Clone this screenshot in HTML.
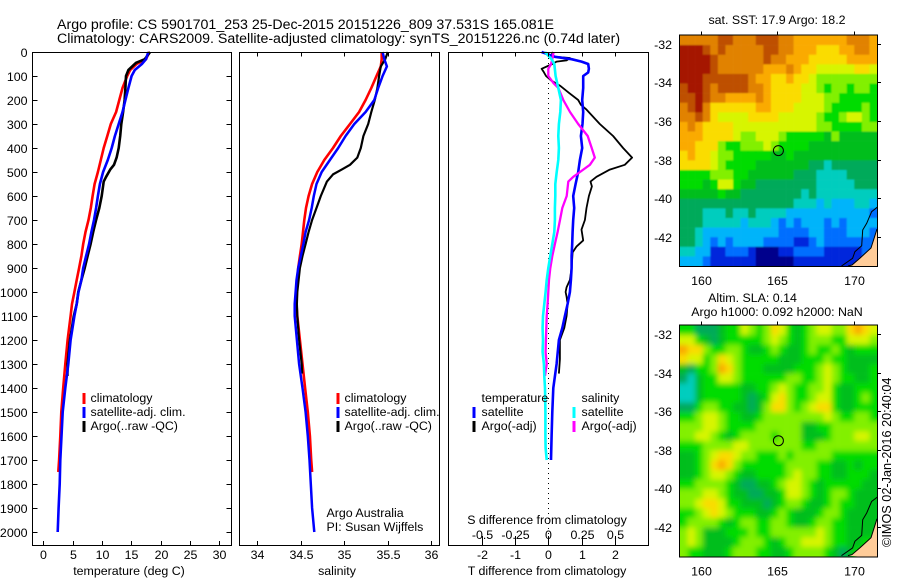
<!DOCTYPE html>
<html lang="en">
<head>
<meta charset="utf-8">
<title>Argo profile chart</title>
<style>
html,body{margin:0;padding:0;background:#fff;width:900px;height:580px;overflow:hidden}
svg{display:block}
text{font-family:"Liberation Sans",sans-serif;font-size:12.4px;fill:#000}
.title{font-size:14.2px}
.stamp{font-size:12.7px}
</style>
</head>
<body>
<svg id="chart" xmlns="http://www.w3.org/2000/svg" width="900" height="580" viewBox="0 0 900 580">
<defs>
<clipPath id="clip-sst"><rect x="680" y="35.5" width="197" height="230.5"/></clipPath>
<clipPath id="clip-sla"><rect x="680" y="325.5" width="197" height="231"/></clipPath>
<filter id="soften" x="-5%" y="-5%" width="110%" height="110%"><feGaussianBlur stdDeviation="2.6"/></filter>
<filter id="soften-light" x="-5%" y="-5%" width="110%" height="110%"><feGaussianBlur stdDeviation="0.9"/></filter>
</defs>
<text class="title" x="57" y="29">Argo profile: CS 5901701_253 25-Dec-2015 20151226_809 37.531S 165.081E</text>
<text class="title" x="57" y="43">Climatology: CARS2009. Satellite-adjusted climatology: synTS_20151226.nc (0.74d later)</text>
<g id="layer-temp"></g>
<g id="layer-sal"></g>
<g id="layer-diff"></g>
<g id="layer-sst"></g>
<g id="layer-sla"></g>

<text x="129" y="575" text-anchor="middle">temperature (deg C)</text>
<text x="337" y="575" text-anchor="middle">salinity</text>
<text x="547" y="575" text-anchor="middle">T difference from climatology</text>
<text x="547" y="524" text-anchor="middle">S difference from climatology</text>

<g>
<text x="90.5" y="402">climatology</text>
<text x="90.5" y="416">satellite-adj. clim.</text>
<text x="90.5" y="430">Argo(..raw -QC)</text>
</g>
<g>
<text x="344.5" y="402">climatology</text>
<text x="344.5" y="416">satellite-adj. clim.</text>
<text x="344.5" y="430">Argo(..raw -QC)</text>
<text x="326.5" y="517">Argo Australia</text>
<text x="326.5" y="531">PI: Susan Wijffels</text>
</g>
<g>
<text x="481.5" y="402">temperature</text>
<text x="481.5" y="416">satellite</text>
<text x="481.5" y="430">Argo(-adj)</text>
<text x="581.5" y="402">salinity</text>
<text x="581.5" y="416">satellite</text>
<text x="581.5" y="430">Argo(-adj)</text>
</g>

<text x="777" y="24" text-anchor="middle">sat. SST: 17.9 Argo: 18.2</text>
<text x="752.5" y="302" text-anchor="middle">Altim. SLA: 0.14</text>
<text x="777" y="316" text-anchor="middle">Argo h1000: 0.092 h2000: NaN</text>
<text class="stamp" transform="translate(891,547) rotate(-90)">©IMOS 02-Jan-2016 20:40:04</text>
</svg>

<script>
// ---- temperature panel data ----
const tempClimDepth = [0,30,50,75,100,150,200,250,300,350,400,450,500,550,600,650,700,750,800,850,900,950,1000,1050,1100,1200,1300,1400,1500,1600,1700,1750];
const tempClimValue = [18.07,17.5,15.9,14.8,14.3,13.5,12.95,12.4,11.5,10.9,10.3,9.8,9.3,8.75,8.4,8.1,7.7,7.2,6.8,6.5,6.1,5.7,5.3,4.9,4.66,4.15,3.75,3.4,3.07,2.9,2.7,2.55];
const tempSatDepth = [0,30,50,75,100,150,200,250,300,350,400,450,500,550,600,650,700,750,800,850,900,950,1000,1050,1100,1200,1300,1400,1500,1600,1700,1800,1900,2000];
const tempSatValue = [17.9,17.5,16.8,15.6,15.05,14.5,14,13.5,12.85,12.2,11.65,11,10.2,9.65,9.3,9,8.65,8.2,7.8,7.3,6.8,6.5,6,5.7,5.3,4.66,4.26,3.75,3.3,3.1,2.9,2.8,2.6,2.45];
const tempArgoDepth = [0,30,45,75,100,150,200,250,300,350,400,440,470,490,520,540,600,650,700,750,800,850,900,950,1000,1050,1100,1200,1300,1350];
const tempArgoValue = [18.2,17.3,15.8,14.5,14.1,14,13.85,13.6,13.3,13.1,12.85,12.5,12.05,11.4,10.7,10.3,9.95,9.55,9,8.5,8.07,7.55,7.05,6.5,5.97,5.7,5.2,4.55,4.15,4.1];

// ---- salinity panel data ----
const salClimDepth = [0,30,60,100,150,200,250,300,350,400,450,500,550,600,650,700,750,800,850,900,1000,1050,1100,1200,1300,1400,1500,1600,1700,1750];
const salClimValue = [35.43,35.43,35.42,35.37,35.31,35.245,35.17,35.065,34.96,34.87,34.77,34.69,34.63,34.59,34.56,34.54,34.525,34.51,34.49,34.47,34.455,34.45,34.46,34.49,34.52,34.55,34.58,34.605,34.62,34.63];
const salSatDepth = [0,30,60,100,150,200,250,300,350,400,450,500,550,600,650,700,750,800,850,900,950,1000,1050,1100,1200,1300,1400,1500,1600,1700,1800,1900,2000];
const salSatValue = [35.44,35.46,35.49,35.44,35.39,35.345,35.245,35.115,35.015,34.93,34.835,34.74,34.68,34.65,34.625,34.595,34.555,34.53,34.5,34.47,34.45,34.44,34.43,34.43,34.455,34.48,34.52,34.555,34.58,34.6,34.615,34.63,34.655];
const salArgoDepth = [0,30,60,100,150,200,250,300,350,400,440,470,490,510,540,600,630,700,750,800,850,900,1000,1050,1100,1200,1300,1340];
const salArgoValue = [35.5,35.47,35.42,35.4,35.38,35.35,35.31,35.275,35.22,35.19,35.15,35.065,34.97,34.87,34.8,34.73,34.7,34.63,34.59,34.555,34.52,34.49,34.46,34.455,34.46,34.48,34.51,34.515];

// ---- difference panel data ----
const diffTSatDepth = [0,20,30,40,50,70,85,100,150,200,250,300,350,400,450,500,550,600,650,700,750,800,850,900,950,1000,1050,1100,1150,1200,1300,1400,1500,1600,1700];
const diffTSatValue = [-0.2,0.2,0.7,1.0,1.2,1.22,1.2,1.05,1.05,1.02,1.05,1.03,0.98,1.02,0.95,0.9,0.82,0.75,0.78,0.75,0.73,0.72,0.7,0.7,0.68,0.65,0.58,0.5,0.42,0.32,0.25,0.15,0.12,0.1,0.08];
const diffTArgoDepth = [0,15,20,25,35,40,50,70,85,100,120,140,170,200,220,240,300,350,400,440,470,490,520,540,560,600,650,700,740,785,810,835,900,950,980,1000,1020,1050,1100,1150,1200,1280,1340];
const diffTArgoValue = [0.1,0.15,0.2,0.65,0.55,0.25,0.12,-0.2,-0.13,-0.07,0.1,0.35,0.62,0.9,0.98,1.15,1.55,1.95,2.25,2.52,2.3,1.85,1.45,1.27,1.31,1.22,1.15,1.1,1.0,1.05,0.85,0.73,0.7,0.65,0.55,0.52,0.55,0.58,0.55,0.48,0.35,0.35,0.32];
const diffSSatDepth = [0,30,50,100,150,200,250,300,350,400,450,500,550,600,650,700,750,800,850,900,950,1000,1050,1100,1150,1200,1250,1300,1350,1400,1500,1600,1650,1700];
const diffSSatValue = [-0.025,0.025,0.045,0.055,0.075,0.095,0.09,0.08,0.075,0.08,0.075,0.063,0.053,0.053,0.05,0.05,0.045,0.03,0.015,0,-0.012,-0.02,-0.03,-0.04,-0.043,-0.04,-0.043,-0.033,-0.03,-0.025,-0.022,-0.022,-0.02,-0.012];
const diffSArgoDepth = [0,30,50,70,100,130,150,200,250,300,350,400,440,470,500,520,540,600,650,700,750,800,850,900,950,1000,1050,1100,1150,1250,1300,1350];
const diffSArgoValue = [0.04,0.03,0.02,0,0,0.04,0.075,0.113,0.163,0.225,0.296,0.326,0.35,0.313,0.238,0.188,0.15,0.138,0.105,0.088,0.07,0.05,0.03,0.015,0.005,0,-0.005,-0.012,-0.015,-0.02,-0.012,-0.025];

// ---- tick labels ----
const depthTicks = [0,100,200,300,400,500,600,700,800,900,1000,1100,1200,1300,1400,1500,1600,1700,1800,1900,2000];
const tempTicks = [0,5,10,15,20,25,30];
const salTicks = [34,34.5,35,35.5,36];
const diffTTicks = [-2,-1,0,1,2];
const diffSTicks = [-0.5,-0.25,0,0.25,0.5];
const diffSTickLabels = ['-0.5','-0.25','0','0.25','0.5'];
const lonTicks = [160,165,170];
const latTicks = [-32,-34,-36,-38,-40,-42];

// ---- profile location and coast (lon/lat) ----
const profileLon = 165.081;
const profileLat = -37.531;
const offshoreLon = [171.54,171.17,170.85,170.59,170.52,170.08,169.93,169.2];
const offshoreLat = [-40.46,-40.69,-41.29,-41.64,-42.45,-42.76,-43.1,-43.5];
const coastLon = [171.52,171.13,170.41,169.89,169.63];
const coastLat = [-41.59,-42.57,-43.09,-43.45,-43.5];

// ---- map grids: colour level per cell, north to south, west to east ----
const sstLevels = [
[12,12,12,12,12,13,13,12,12,12,13,13,13,12,12,11,11,11,11,11,11,11,12,12,12,11],
[14,14,14,13,12,13,12,12,12,12,12,13,13,12,12,11,11,11,10,10,10,11,11,12,12,11],
[14,14,14,14,13,12,12,12,12,12,12,13,12,12,11,11,11,10,10,10,10,10,11,11,11,11],
[14,14,14,14,13,12,12,12,12,12,12,11,11,11,12,11,10,10,9,9,9,9,9,10,10,9],
[14,14,14,13,13,13,13,13,13,12,11,11,10,10,11,10,10,9,8,8,8,8,8,8,8,8],
[13,14,14,13,12,13,13,13,13,12,12,11,10,10,10,10,9,9,8,7,8,8,7,8,8,7],
[13,13,14,13,12,12,11,11,11,11,12,11,10,10,10,10,9,9,9,8,8,7,7,7,7,7],
[12,13,14,12,10,10,10,10,10,10,11,11,10,10,10,9,9,9,9,8,7,7,7,7,8,7],
[12,12,13,12,10,9,9,9,9,10,10,10,10,9,9,9,9,9,8,7,7,8,9,9,8,7],
[11,12,11,10,10,10,10,9,9,9,9,9,9,9,9,9,9,9,8,8,7,7,7,7,8,8],
[11,11,11,10,10,10,10,9,8,8,9,9,9,8,7,7,7,7,7,6,8,6,6,6,6,6],
[11,11,10,10,10,8,7,7,8,8,8,9,8,7,7,7,7,6,6,6,6,6,6,6,6,6],
[10,11,10,10,9,8,8,7,7,7,7,7,6,6,7,6,6,6,6,6,6,6,6,6,6,6],
[10,10,10,10,9,8,7,7,7,7,6,6,6,6,6,6,6,5,5,4,5,5,5,5,5,5],
[7,7,7,7,8,8,8,7,7,6,6,6,6,6,6,5,5,5,4,4,4,4,5,5,5,5],
[7,7,7,6,7,9,9,7,6,6,5,5,5,5,5,5,5,5,4,4,4,4,4,5,5,5],
[6,6,6,6,6,7,6,6,5,5,5,5,5,5,5,5,4,5,4,4,4,4,4,4,4,4],
[5,5,5,5,5,5,5,5,5,5,5,5,5,5,5,4,4,4,3,4,3,3,3,4,4,3],
[5,5,5,4,4,4,5,4,4,5,4,4,4,4,3,3,3,3,3,3,3,3,3,3,3,2],
[5,5,5,4,4,4,4,4,3,4,4,4,3,2,3,2,3,3,3,2,3,2,3,3,3,3],
[5,5,4,3,3,3,3,3,3,3,3,3,3,2,2,2,2,3,3,2,2,2,3,3,3,2],
[5,5,4,3,2,3,2,3,3,3,3,2,2,2,2,1,1,2,3,2,2,2,2,2,2,2],
[4,4,3,3,1,1,2,2,2,1,0,0,0,1,1,2,2,2,2,1,1,1,1,1,2,2],
[3,3,3,2,1,1,1,1,1,1,0,0,0,0,0,1,1,1,1,1,1,1,1,1,1,1]
];
const slaLevels = [
[7,7,5,5,5,6,7,7,9,8,7,8,10,9,7,6,7,8,9,9,8,8,10,11,10,9],
[9,9,7,6,5,6,7,7,7,7,7,8,9,8,7,6,7,8,8,8,7,7,9,9,9,8],
[11,10,10,8,7,7,8,8,7,6,6,7,8,7,6,6,7,8,7,7,8,7,6,7,7,7],
[10,9,9,7,8,10,9,8,7,7,7,7,7,6,6,6,7,7,7,8,7,7,6,6,6,6],
[6,5,7,7,8,11,10,8,7,7,7,6,6,6,6,7,7,7,8,9,8,7,6,6,6,7],
[5,4,6,7,7,9,9,8,7,7,7,7,7,7,8,8,7,7,8,9,8,7,7,6,6,7],
[4,4,6,7,7,7,7,7,6,6,7,7,8,9,8,7,7,8,8,9,7,6,6,7,7,7],
[4,4,6,7,7,7,7,7,6,5,6,7,9,10,8,7,7,8,9,9,7,6,6,7,8,7],
[5,5,7,8,8,7,7,6,6,5,6,8,10,10,8,7,8,9,10,10,7,6,6,7,7,7],
[7,7,8,9,9,8,7,7,6,6,7,8,8,8,8,8,8,8,8,9,8,7,7,8,8,7],
[8,8,8,9,9,8,7,7,7,7,8,8,8,8,8,8,6,6,7,7,8,8,8,8,8,8],
[8,8,9,9,8,7,6,7,8,8,8,8,7,8,8,8,6,6,6,7,8,8,8,9,9,8],
[7,7,7,8,8,8,8,9,9,8,8,8,8,8,8,8,7,7,8,8,8,8,8,8,8,8],
[6,6,7,8,9,10,10,9,8,8,7,7,7,8,7,8,8,8,8,8,7,7,7,7,7,7],
[6,6,7,8,10,11,10,8,7,7,7,7,7,7,8,8,8,8,7,7,6,6,7,6,7,7],
[6,6,7,8,9,9,8,7,6,6,7,7,7,7,8,9,8,8,7,7,6,6,7,7,7,6],
[7,7,8,8,8,8,7,6,5,5,6,6,7,8,9,9,8,7,6,7,7,7,7,7,6,6],
[8,8,8,9,9,8,7,6,6,5,5,6,6,7,9,9,8,7,6,7,8,8,7,6,6,6],
[8,8,9,10,10,9,7,7,6,6,6,5,6,7,8,8,7,6,6,7,8,7,7,6,6,6],
[7,7,8,9,10,9,8,7,7,7,6,6,7,8,7,6,6,6,7,8,8,7,6,6,6,6],
[7,8,8,8,8,7,6,7,8,8,7,7,8,8,7,6,6,7,8,8,7,7,6,6,6,6],
[8,9,8,6,6,6,7,7,7,8,7,7,8,8,8,8,8,8,9,8,7,7,6,6,6,6],
[8,9,8,6,6,6,6,7,8,8,8,7,6,7,8,8,9,9,9,8,7,7,6,6,7,7],
[8,7,7,6,6,6,7,8,8,8,7,7,6,6,7,8,8,8,8,7,6,5,6,7,7,7]
];

// ---- axis functions ----
function yDepth(d){ return 52 + 0.24 * d; }
function xTemp(v){ return 43.3 + 5.867 * v; }
function xSal(v){ return 257.3 + 87 * (v - 34); }
function xDiffT(v){ return 548.3 + 33.25 * v; }
function xDiffS(v){ return 548.3 + 133 * v; }
function xLon(v){ return 700.7 + 15.3 * (v - 160); }
function ySstLat(v){ return 43.7 + 19.33 * (-32 - v); }
function ySlaLat(v){ return 334.3 + 19.24 * (-32 - v); }
function levelColor(level){
  const palette = ['#00008c','#0028dc','#006eff','#00b4fa','#00cdbe','#00aa5a','#00be1e','#00dc00','#82f000','#d7f500','#fadc00','#faaa00','#e18200','#be5000','#a51400'];
  return palette[level];
}

const NS = 'http://www.w3.org/2000/svg';
function make(parent, tag, name){
  const el = document.createElementNS(NS, tag);
  
  
  parent.appendChild(el);
  return el;
}
function frame(parent, x, y, w, h, name){
  const r = make(parent, 'rect', name);
  r.setAttribute('x', x); r.setAttribute('y', y);
  r.setAttribute('width', w); r.setAttribute('height', h);
  r.setAttribute('fill', 'none'); r.setAttribute('stroke', '#000');
  r.setAttribute('shape-rendering', 'crispEdges');
}
function seg(parent, x1, y1, x2, y2, name, color, width){
  const l = make(parent, 'line', name);
  l.setAttribute('x1', x1); l.setAttribute('y1', y1);
  l.setAttribute('x2', x2); l.setAttribute('y2', y2);
  l.setAttribute('stroke', color || '#000');
  l.setAttribute('stroke-width', width || 1);
  l.setAttribute('shape-rendering', 'crispEdges');
  return l;
}
function label(parent, x, y, str, anchor, name){
  const t = make(parent, 'text', name);
  t.setAttribute('x', x); t.setAttribute('y', y);
  t.setAttribute('text-anchor', anchor);
  t.textContent = str;
}
function profile(parent, depths, values, xFn, color, width, name){
  const p = make(parent, 'polyline', name);
  p.setAttribute('points', depths.map((d, i) => xFn(values[i]).toFixed(1) + ',' + yDepth(d).toFixed(1)).join(' '));
  p.setAttribute('fill', 'none');
  p.setAttribute('stroke', color);
  p.setAttribute('stroke-width', width);
  p.setAttribute('stroke-linejoin', 'round');
}
function legendMark(parent, x, y, color, name){
  seg(parent, x, y - 5.5, x, y + 5.5, name, color, 2.6);
}

// ---- temperature panel ----
const lt = document.getElementById('layer-temp');
profile(lt, tempClimDepth, tempClimValue, xTemp, '#ff0000', 2.6, 'climatology-line');
profile(lt, tempArgoDepth, tempArgoValue, xTemp, '#000000', 2.6, 'argo-line');
profile(lt, tempSatDepth, tempSatValue, xTemp, '#0000ff', 2.6, 'satellite-adj-line');
frame(lt, 32.5, 52.5, 199, 493, 'temperature-axes-frame');
depthTicks.forEach(d => {
  const y = Math.round(yDepth(d)) + 0.5;
  seg(lt, 32.5, y, 37.5, y, 'depth-tick');
  seg(lt, 226.5, y, 231.5, y, 'depth-tick');
  label(lt, 27.5, y + 4.5, String(d), 'end', 'depth-tick-label');
});
tempTicks.forEach(v => {
  const x = Math.round(xTemp(v)) + 0.5;
  seg(lt, x, 541, x, 545.5, 'temperature-tick');
  label(lt, x, 559, String(v), 'middle', 'temperature-tick-label');
});
legendMark(lt, 84, 398.5, '#ff0000', 'legend-mark-climatology');
legendMark(lt, 84, 412.5, '#0000ff', 'legend-mark-satellite-adj');
legendMark(lt, 84, 426.5, '#000000', 'legend-mark-argo');

// ---- salinity panel ----
const ls = document.getElementById('layer-sal');
profile(ls, salClimDepth, salClimValue, xSal, '#ff0000', 2.6, 'climatology-line');
profile(ls, salArgoDepth, salArgoValue, xSal, '#000000', 2.2, 'argo-line');
profile(ls, salSatDepth, salSatValue, xSal, '#0000ff', 2.5, 'satellite-adj-line');
frame(ls, 239.5, 52.5, 200, 493, 'salinity-axes-frame');
salTicks.forEach(v => {
  const x = Math.round(xSal(v)) + 0.5;
  seg(ls, x, 52.5, x, 56.5, 'salinity-tick');
  seg(ls, x, 541, x, 545.5, 'salinity-tick');
  label(ls, x, 559, String(v), 'middle', 'salinity-tick-label');
});
legendMark(ls, 338, 398.5, '#ff0000', 'legend-mark-climatology');
legendMark(ls, 338, 412.5, '#0000ff', 'legend-mark-satellite-adj');
legendMark(ls, 338, 426.5, '#000000', 'legend-mark-argo');

// ---- difference panel ----
const ld = document.getElementById('layer-diff');
const zero = make(ld, 'line', 'zero-reference-line');
zero.setAttribute('x1', 548.5); zero.setAttribute('x2', 548.5);
zero.setAttribute('y1', 53); zero.setAttribute('y2', 545);
zero.setAttribute('stroke', '#000');
zero.setAttribute('stroke-dasharray', '1 4');
profile(ld, diffTArgoDepth, diffTArgoValue, xDiffT, '#000000', 1.8, 't-argo-line');
profile(ld, diffTSatDepth, diffTSatValue, xDiffT, '#0000ff', 2.6, 't-satellite-line');
profile(ld, diffSArgoDepth, diffSArgoValue, xDiffS, '#ff00ff', 2.3, 's-argo-line');
profile(ld, diffSSatDepth, diffSSatValue, xDiffS, '#00ffff', 2.6, 's-satellite-line');
frame(ld, 448.5, 52.5, 200, 493, 'difference-axes-frame');
diffTTicks.forEach(v => {
  const x = Math.round(xDiffT(v)) + 0.5;
  seg(ld, x, 541, x, 545.5, 't-difference-tick');
  label(ld, x, 559, String(v), 'middle', 't-difference-tick-label');
});
diffSTicks.forEach((v, i) => {
  const x = Math.round(xDiffS(v)) + 0.5;
  seg(ld, x, 52.5, x, 56.5, 's-difference-tick');
  seg(ld, x, 536, x, 541, 's-difference-tick');
  label(ld, x, 539, diffSTickLabels[i], 'middle', 's-difference-tick-label');
});
legendMark(ld, 474, 412.5, '#0000ff', 'legend-mark-t-satellite');
legendMark(ld, 474, 426.5, '#000000', 'legend-mark-t-argo');
legendMark(ld, 574, 412.5, '#00ffff', 'legend-mark-s-satellite');
legendMark(ld, 574, 426.5, '#ff00ff', 'legend-mark-s-argo');

// ---- maps ----
function drawMap(parent, levels, top, height, clipId, yLat, softId, name){
  const clip = make(parent, 'g', name + '-clip');
  clip.setAttribute('clip-path', 'url(#' + clipId + ')');
  const cells = make(clip, 'g', name + '-cells');
  cells.setAttribute('filter', 'url(#' + softId + ')');
  const left = 680, width = 197, rows = levels.length, cols = levels[0].length;
  const cw = width / cols, ch = height / rows;
  levels.forEach((row, r) => row.forEach((lvl, c) => {
    const cell = make(cells, 'rect', name + '-cell');
    const pad = 12;
    const x0 = left + c * cw - (c === 0 ? pad : 0);
    const x1 = left + (c + 1) * cw + (c === cols - 1 ? pad : 0);
    const y0 = top + r * ch - (r === 0 ? pad : 0);
    const y1 = top + (r + 1) * ch + (r === rows - 1 ? pad : 0);
    cell.setAttribute('x', x0.toFixed(2));
    cell.setAttribute('y', y0.toFixed(2));
    cell.setAttribute('width', (x1 - x0 + 0.3).toFixed(2));
    cell.setAttribute('height', (y1 - y0 + 0.3).toFixed(2));
    cell.setAttribute('fill', levelColor(lvl));
  }));
  const line = (lons, lats) => lons.map((v, i) => xLon(v).toFixed(1) + ',' + yLat(lats[i]).toFixed(1)).join(' ');
  const land = make(clip, 'polygon', 'land');
  land.setAttribute('points', line(coastLon, coastLat) + ' 880,' + (top + height + 2) + ' 880,' + yLat(coastLat[0]).toFixed(1));
  land.setAttribute('fill', '#ffcc99');
  const coast = make(clip, 'polyline', 'coastline');
  coast.setAttribute('points', line(coastLon, coastLat));
  coast.setAttribute('fill', 'none');
  coast.setAttribute('stroke', '#000');
  coast.setAttribute('stroke-width', '1');
  const off = make(clip, 'polyline', 'offshore-contour');
  off.setAttribute('points', line(offshoreLon, offshoreLat));
  off.setAttribute('fill', 'none');
  off.setAttribute('stroke', '#000');
  off.setAttribute('stroke-width', '1');
  const mark = make(parent, 'circle', 'profile-location-marker');
  mark.setAttribute('cx', xLon(profileLon).toFixed(1));
  mark.setAttribute('cy', yLat(profileLat).toFixed(1));
  mark.setAttribute('r', 5);
  mark.setAttribute('fill', 'none');
  mark.setAttribute('stroke', '#000');
  frame(parent, 679.5, top - 0.5, 198, height + 1, name + '-frame');
  lonTicks.forEach(v => {
    const x = Math.round(xLon(v)) + 0.5;
    seg(parent, x, top - 4, x, top, 'longitude-tick');
    label(parent, x, top + height + 19, String(v), 'middle', 'longitude-tick-label');
  });
  latTicks.forEach(v => {
    const y = Math.round(yLat(v)) + 0.5;
    seg(parent, 877.5, y, 881, y, 'latitude-tick');
    label(parent, 672, y + 4.5, String(v), 'end', 'latitude-tick-label');
  });
}
drawMap(document.getElementById('layer-sst'), sstLevels, 35.5, 230.5, 'clip-sst', ySstLat, 'soften-light', 'sst-map');
drawMap(document.getElementById('layer-sla'), slaLevels, 325.5, 231, 'clip-sla', ySlaLat, 'soften', 'sla-map');
</script>
</body>
</html>
